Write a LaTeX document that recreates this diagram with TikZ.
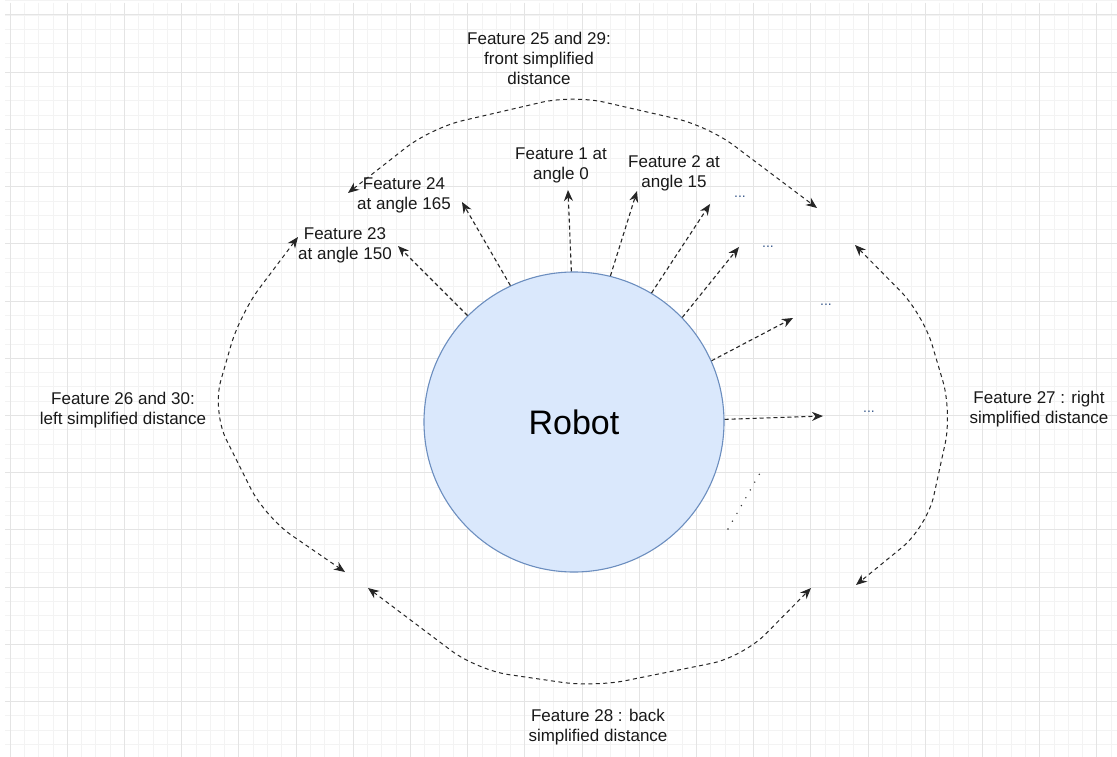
\documentclass[tikz,border=0pt]{standalone}
\usepackage{fontspec}
\setmainfont{Liberation Sans}
\usetikzlibrary{arrows.meta}
\definecolor{robotfill}{HTML}{DAE8FC}
\definecolor{robotline}{HTML}{6C8EBF}
\definecolor{gridmajor}{HTML}{E4E4E4}
\definecolor{gridminor}{HTML}{F3F3F3}
\definecolor{dotblue}{HTML}{3A5A8C}

\begin{document}
\begin{tikzpicture}[
    x=1pt, y=-1pt,
    robotbody/.style={circle, draw=robotline, fill=robotfill, line width=1.1pt, minimum size=300pt, inner sep=0pt, font=\fontsize{34}{40}\selectfont},
    featlabel/.style={align=center, inner sep=0pt, font=\fontsize{17}{20}\selectfont, text=black!90},
    moredots/.style={inner sep=0pt, font=\fontsize{14}{16}\selectfont, text=dotblue},
    ray/.style={-{Stealth[length=11pt, width=9pt, inset=3.5pt]}, line width=1.1pt, dash pattern=on 4pt off 3pt, black!85},
    sweep/.style={{Stealth[length=11pt, width=9pt, inset=3.5pt]}-{Stealth[length=11pt, width=9pt, inset=3.5pt]}, line width=1pt, dash pattern=on 4pt off 3.5pt, black!85, rounded corners=32pt}
]
\useasboundingbox[fill=white] (0,0) rectangle (1117,757);

% ==================== BACKGROUND GRID ====================
\foreach \i in {0,...,77} \draw[gridminor, line width=0.8pt] ({10+14.3*\i},3) -- ({10+14.3*\i},757);
\foreach \j in {-1,...,51} \draw[gridminor, line width=0.8pt] (5,{15+14.3*\j}) -- (1117,{15+14.3*\j});
\foreach \i in {0,...,19} \draw[gridmajor, line width=1pt] ({10+57.2*\i},3) -- ({10+57.2*\i},757);
\foreach \j in {0,...,12} \draw[gridmajor, line width=1pt] (5,{15+57.2*\j}) -- (1117,{15+57.2*\j});

% ==================== ROBOT ====================
\node[robotbody] (robot) at (574,422) {Robot};

% ==================== FEATURE LABELS ====================
\node[featlabel] (lbl_front) at (539,58) {Feature 25 and 29:\\front simplified\\distance};
\node[featlabel] (lbl_f1) at (561,165) {Feature 1 at\\angle 0};
\node[featlabel] (lbl_f2) at (674,173) {Feature 2 at\\angle 15};
\node[featlabel] (lbl_f24) at (404,195) {Feature 24\\at angle 165};
\node[featlabel] (lbl_f23) at (345,245) {Feature 23\\at angle 150};
\node[featlabel] (lbl_left) at (123,410) {Feature 26 and 30:\\left simplified distance};
\node[featlabel] (lbl_right) at (1039,409) {Feature 27 : right\\simplified distance};
\node[featlabel] (lbl_back) at (598,727) {Feature 28 : back\\simplified distance};

% ==================== ELLIPSIS MARKS ====================
\node[moredots] (dots_a) at (740,197) {...};
\node[moredots] (dots_b) at (768,247) {...};
\node[moredots] (dots_c) at (826,305) {...};
\node[moredots] (dots_d) at (869,412) {...};

% ==================== RAY TIPS ====================
\coordinate (tip_f1) at (568,190);
\coordinate (tip_f2) at (637,191);
\coordinate (tip_r3) at (710,204);
\coordinate (tip_r4) at (739,247);
\coordinate (tip_r5) at (793,318);
\coordinate (tip_r6) at (823,416);
\coordinate (tip_f24) at (462,202);
\coordinate (tip_f23) at (398,246);
\coordinate (trail_a) at (728,529);
\coordinate (trail_b) at (760,473);

% ==================== RAYS FROM ROBOT ====================
\draw[ray] (robot.91.5) -- (tip_f1);
\draw[ray] (robot.76) -- (tip_f2);
\draw[ray] (robot.59.7) -- (tip_r3);
\draw[ray] (robot.44.5) -- (tip_r4);
\draw[ray] (robot.24) -- (tip_r5);
\draw[ray] (robot.1.5) -- (tip_r6);
\draw[ray] (robot.115.5) -- (tip_f24);
\draw[ray] (robot.135) -- (tip_f23);
\draw[black!80, line width=1.6pt, line cap=round, dash pattern=on 0pt off 9pt] (trail_a) -- (trail_b);

% ==================== SIMPLIFIED DISTANCE SWEEPS ====================
\coordinate (front_l) at (348,193);
\coordinate (front_r) at (817,208);
\coordinate (left_t) at (298,237);
\coordinate (left_b) at (345,572);
\coordinate (right_t) at (855,245);
\coordinate (right_b) at (856,585);
\coordinate (back_l) at (368,588);
\coordinate (back_r) at (811,588);

\draw[sweep] (front_l) -- (431,128) -- (573,95) -- (708,126) -- (front_r);
\draw[sweep] (left_t) -- (240,314) -- (212,411) -- (265,517) -- (left_b);
\draw[sweep] (right_t) -- (923,314) -- (952,412) -- (927,527) -- (right_b);
\draw[sweep] (back_l) -- (477,670) -- (594,687) -- (743,657) -- (back_r);

\end{tikzpicture}
\end{document}
